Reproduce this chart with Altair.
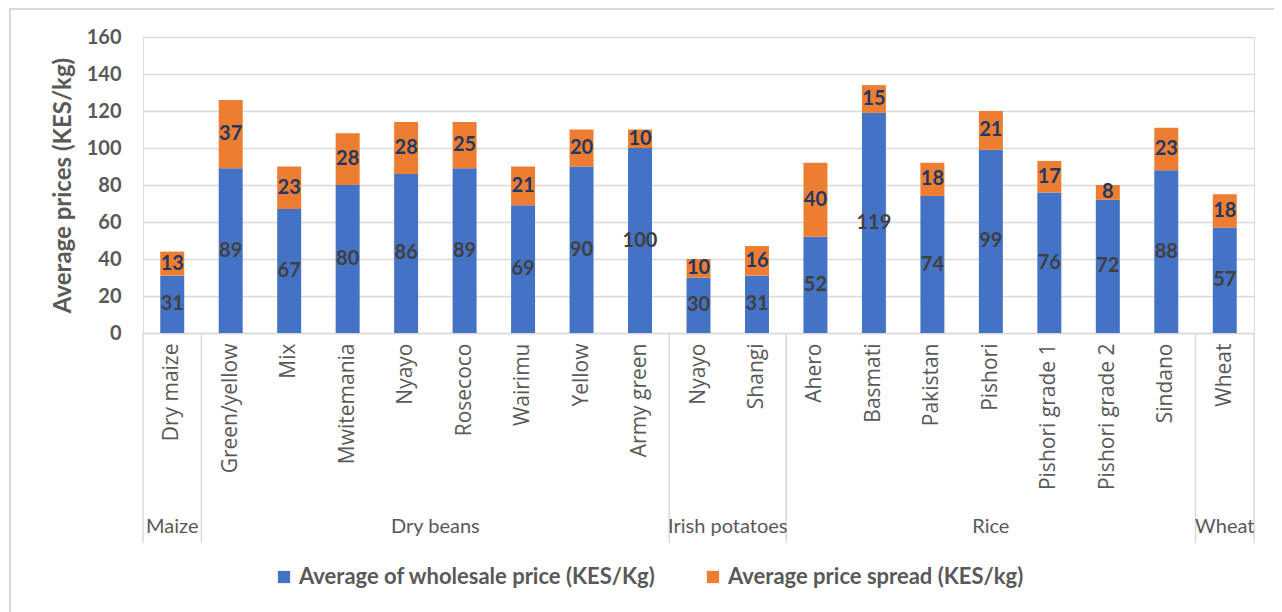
import altair as alt
import pandas as pd

groups = ["Maize", "Dry beans", "Irish potatoes", "Rice", "Wheat"]
group_sizes = [1, 8, 2, 7, 1]
varieties = ["Dry maize", "Green/yellow", "Mix", "Mwitemania", "Nyayo", "Rosecoco",
             "Wairimu", "Yellow", "Army green", "Nyayo", "Shangi", "Ahero", "Basmati",
             "Pakistan", "Pishori", "Pishori grade 1", "Pishori grade 2", "Sindano", "Wheat"]
wholesale = [31, 89, 67, 80, 86, 89, 69, 90, 100, 30, 31, 52, 119, 74, 99, 76, 72, 88, 57]
spread = [13, 37, 23, 28, 28, 25, 21, 20, 10, 10, 16, 40, 15, 18, 21, 17, 8, 23, 18]
series_names = ["Average of wholesale price (KES/Kg)", "Average price spread (KES/kg)"]
series_colors = ["#4472C4", "#ED7D31"]
y_ticks = [0, 20, 40, 60, 80, 100, 120, 140, 160]

W, H = 1111, 296
n = len(varieties)
keys = [f"{i:02d}|{v}" for i, v in enumerate(varieties)]

rows = []
for i, k in enumerate(keys):
    rows.append({"key": k, "series": series_names[0], "ord": 0, "value": wholesale[i]})
    rows.append({"key": k, "series": series_names[1], "ord": 1, "value": spread[i]})
df = pd.DataFrame(rows)

gstart = []
s = 0
for g in group_sizes:
    gstart.append(s)
    s += g
gdf = pd.DataFrame({"group": groups, "mid": [a + b / 2 for a, b in zip(gstart, group_sizes)]})
bdf = pd.DataFrame({"pos": gstart + [n]})

FONT = "Lato"
GRAY = "#595959"

xband = alt.X("key:N", sort=keys,
              scale=alt.Scale(paddingInner=0.59, paddingOuter=0.295),
              axis=alt.Axis(title=None, labelAngle=270, labelAlign="right", labelBaseline="middle",
                            labelExpr="split(datum.label, '|')[1]", ticks=False,
                            labelPadding=10, labelFont="Open Sans", labelFontSize=21,
                            labelColor=GRAY, domainColor="#d9d9d9", domainWidth=1.5,
                            labelLimit=300, grid=False, labelOverlap=False))
yscale = alt.Scale(domain=[0, 160])
yaxis = alt.Axis(title="Average prices (KES/kg)", values=y_ticks, tickCount=12,
                 ticks=False, domain=False, labelPadding=22, labelOverlap=False,
                 labelFont=FONT, labelFontSize=20, labelFontWeight="bold",
                 labelColor=GRAY, titleFont=FONT, titleFontSize=24,
                 titleFontWeight="bold", titleColor=GRAY, titlePadding=11,
                 grid=True, gridColor="#d9d9d9", gridWidth=1.5)

bars = alt.Chart(df).mark_bar().encode(
    x=xband,
    y=alt.Y("value:Q", stack="zero", scale=yscale, axis=yaxis),
    color=alt.Color("series:N", scale=alt.Scale(domain=series_names, range=series_colors),
                    legend=alt.Legend(title=None, orient="none", direction="horizontal",
                                      legendX=130, legendY=529, symbolType="square",
                                      symbolSize=150, symbolStrokeWidth=0,
                                      labelFont=FONT, labelFontSize=22, labelFontWeight="bold",
                                      labelColor=GRAY, columnPadding=46, labelLimit=600,
                                      padding=0, symbolOpacity=1)),
    order=alt.Order("ord:Q"),
)

labels = alt.Chart(df).transform_stack(
    stack="value", groupby=["key"], sort=[alt.SortField("ord")], as_=["y0", "y1"]
).transform_calculate(mid="(datum.y0 + datum.y1) / 2").mark_text(
    font=FONT, fontSize=20, fontWeight="bold", baseline="middle"
).encode(
    x=alt.X("key:N", sort=keys, scale=alt.Scale(paddingInner=0.59, paddingOuter=0.295), axis=None),
    y=alt.Y("mid:Q", scale=yscale, axis=yaxis),
    text=alt.Text("value:Q"),
    color=alt.condition("datum.ord == 0", alt.value("#404040"), alt.value("#1F3864")),
)

gx = alt.Scale(domain=[0, n])
seps = alt.Chart(bdf).mark_rule(color="#d9d9d9", strokeWidth=1.5).encode(
    x=alt.X("pos:Q", scale=gx, axis=None),
    y=alt.value(H),
    y2=alt.value(H + 210),
)
gtext = alt.Chart(gdf).mark_text(font=FONT, fontSize=20, color=GRAY, baseline="middle").encode(
    x=alt.X("mid:Q", scale=gx, axis=None),
    y=alt.value(H + 194),
    text="group:N",
)

frame = alt.Chart(pd.DataFrame({"a": [0]})).mark_rect(
    fill=None, stroke="#d9d9d9", strokeWidth=2
).encode(
    x=alt.value(-133), x2=alt.value(1160), y=alt.value(-28), y2=alt.value(600)
)

chart = alt.layer(frame, bars, labels, alt.layer(seps, gtext)).resolve_scale(
    x="independent", color="independent"
).properties(
    width=W, height=H,
    autosize=alt.AutoSizeParams(type="none"),
    padding={"left": 135, "top": 29, "right": 20, "bottom": 279},
).configure_view(stroke=None).configure(background="white")

chart.save("out.html", embed_options={"renderer": "svg", "actions": False})
